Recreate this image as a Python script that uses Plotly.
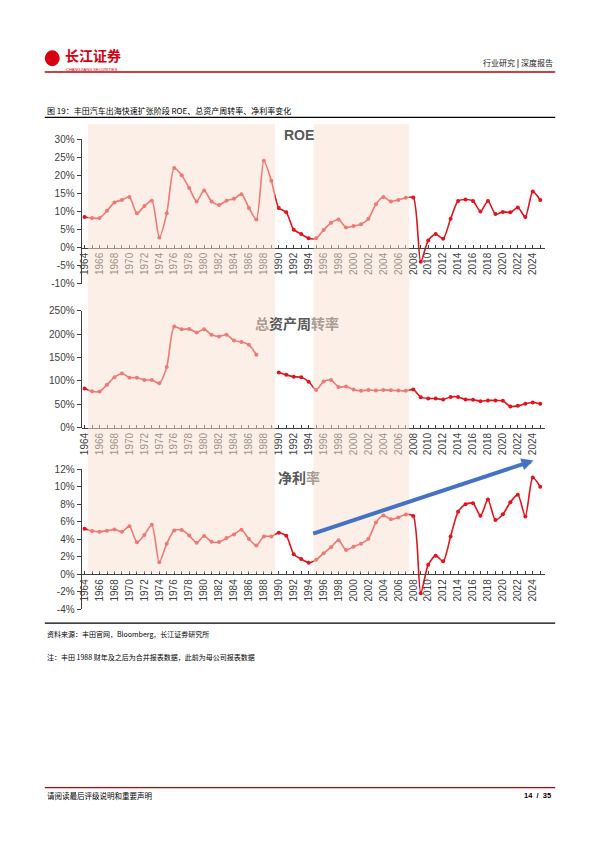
import plotly.graph_objects as go

W, H = 595, 841

# ==========================================
# Dados
# ==========================================
years = list(range(1964, 2026))

roe = [8.5, 8.2, 8.2, 10.2, 12.5, 13.2, 14.0, 9.5, 11.5, 13.0,
       2.8, 9.5, 22.0, 20.0, 16.5, 12.8, 15.8, 12.8, 11.8, 13.0,
       13.5, 14.8, 11.0, 7.8, 24.0, 18.5, 11.0, 9.8, 5.0, 3.8,
       2.6, 2.6, 4.9, 6.9, 7.8, 5.6, 6.0, 6.5, 8.0, 12.0,
       14.0, 12.8, 13.2, 13.8, 13.9, -3.9, 2.0, 3.8, 2.5, 8.0,
       12.9, 13.3, 12.9, 10.0, 12.9, 9.3, 9.9, 9.8, 11.1, 8.5,
       15.5, 13.2]

turnover = [83.8, 78, 77.5, 92, 108, 116, 107, 107, 102, 102,
            95, 130, 216, 210, 211, 203.5, 210, 198.6, 195, 198.6,
            186, 183, 177, 156, None, None, 118, 113, 109, 108,
            98.6, 81, 99, 102, 87, 88, 82, 79, 81, 79.6,
            81, 80, 79.6, 79, 82, 65.5, 62.7, 62.7, 60.6, 66,
            66, 60.6, 60, 57, 58.5, 58.5, 57.7, 45.8, 47, 51.4,
            54, 51.4]

net_margin = [5.2, 4.94, 4.86, 4.97, 5.13, 4.86, 5.5, 3.65, 4.5, 5.66,
              1.37, 3.5, 5.0, 5.05, 4.44, 3.6, 4.37, 3.72, 3.68, 4.14,
              4.56, 5.09, 4.03, 3.3, 4.33, 4.33, 4.75, 4.4, 2.3, 1.75,
              1.33, 1.65, 2.4, 3.1, 3.9, 2.77, 3.15, 3.5, 4.06, 5.92,
              6.72, 6.3, 6.5, 6.84, 6.65, -2.16, 1.1, 2.13, 1.48, 4.33,
              7.14, 8.0, 8.13, 6.68, 8.55, 6.2, 6.87, 8.24, 9.1, 6.6,
              11.05, 10.0]

tick_text = [str(y) if y % 2 == 0 else "" for y in years]

roe_ticks = [-10, -5, 0, 5, 10, 15, 20, 25, 30]
turnover_ticks = [0, 50, 100, 150, 200, 250]
margin_ticks = [-4, -2, 0, 2, 4, 6, 8, 10, 12]

# fases de expansão (sombreado)
phases = [(1964.45, 1989.5), (1994.65, 2007.45)]
# seta de tendência do 净利率
arrow_from = (1994.4, 4.6)
arrow_to = (2024.1, 13.0)

RED = "#E3121B"
AXIS = "#404040"
CJK = "Noto Sans CJK SC"
LAT = "Liberation Sans"


def py(px):
    return 1 - px / H


def px_x(px):
    return px / W


X_RANGE = [1963.6, 2025.67]
X_DOM = [px_x(79), px_x(545)]

# painéis: (valores, ticks y, topo px, base px)
panels = [
    (roe, roe_ticks, 135, 282),
    (turnover, turnover_ticks, 309, 428),
    (net_margin, margin_ticks, 470, 612),
]

fig = go.Figure()
layout = dict(
    width=W, height=H,
    margin=dict(l=0, r=0, t=0, b=0),
    paper_bgcolor="white", plot_bgcolor="rgba(0,0,0,0)",
    showlegend=False,
    font=dict(family=LAT, color=AXIS),
)

for i, (vals, yt, top, bot) in enumerate(panels, start=1):
    sfx = "" if i == 1 else str(i)
    yr = [yt[0], yt[-1]]
    fig.add_trace(go.Scatter(
        x=years, y=vals,
        xaxis="x" + sfx, yaxis="y" + sfx,
        mode="lines+markers",
        line=dict(color=RED, width=1.6, shape="spline", smoothing=0.7),
        marker=dict(color=RED, size=4),
        connectgaps=False,
        hoverinfo="x+y",
    ))
    dom = [py(bot), py(top)]
    zero_pos = dom[0] + (0 - yr[0]) / (yr[1] - yr[0]) * (dom[1] - dom[0])
    layout["xaxis" + sfx] = dict(
        domain=X_DOM, range=X_RANGE, anchor="free", position=zero_pos,
        showline=True, linecolor=AXIS, linewidth=1,
        showgrid=False, zeroline=False,
        tickmode="array", tickvals=years, ticktext=tick_text,
        ticks="inside", ticklen=3, tickcolor=AXIS,
        tickangle=-90, tickfont=dict(size=10, color=AXIS, family=LAT),
    )
    layout["yaxis" + sfx] = dict(
        domain=dom, range=yr, anchor="x" + sfx,
        tickmode="array", tickvals=yt, ticktext=[f"{v}%" for v in yt],
        showline=True, linecolor=AXIS, linewidth=1,
        showgrid=False, zeroline=False,
        ticks="outside", ticklen=4, tickcolor=AXIS,
        tickfont=dict(size=10, color=AXIS, family=LAT),
    )

shapes = []
for x0, x1 in phases:
    shapes.append(dict(
        type="rect", xref="x", yref="paper",
        x0=x0, x1=x1, y0=py(575), y1=py(120),
        fillcolor="rgba(249,223,207,0.5)", line=dict(width=0), layer="above",
    ))

# cabeçalho / rodapé
shapes += [
    dict(type="line", xref="paper", yref="paper", x0=px_x(42), x1=px_x(555),
         y0=py(67), y1=py(67), line=dict(color="#C00000", width=1.5)),
    dict(type="line", xref="paper", yref="paper", x0=px_x(42), x1=px_x(555),
         y0=py(113), y1=py(113), line=dict(color="black", width=1.3)),
    dict(type="line", xref="paper", yref="paper", x0=px_x(42), x1=px_x(555),
         y0=py(626), y1=py(626), line=dict(color="black", width=1.3)),
    dict(type="line", xref="paper", yref="paper", x0=px_x(42), x1=px_x(555),
         y0=py(793), y1=py(793), line=dict(color="#C00000", width=1.2)),
    dict(type="circle", xref="paper", yref="paper", x0=px_x(42), x1=px_x(57),
         y0=py(61), y1=py(45), fillcolor="#D7000F", line=dict(width=0)),
]
layout["shapes"] = shapes

GRAY = "#595959"
LIGHT = "#A99C94"
annotations = [
    dict(text="<b>ROE</b>", x=px_x(297), y=py(131), font=dict(size=14, color=GRAY, family=LAT)),
    dict(text=f"<b><span style='color:{LIGHT}'>总</span>资产周<span style='color:{LIGHT}'>转率</span></b>",
         x=px_x(295), y=py(322), font=dict(size=14, color=GRAY, family=CJK)),
    dict(text=f"<b>净利<span style='color:{LIGHT}'>率</span></b>",
         x=px_x(298), y=py(478), font=dict(size=14, color=GRAY, family=CJK)),
    dict(text="<b>长江证券</b>", x=px_x(60), y=py(50), xanchor="left",
         font=dict(size=14, color="#D7000F", family=CJK)),
    dict(text="CHANGJIANG SECURITIES", x=px_x(61), y=py(64), xanchor="left",
         font=dict(size=4, color="#D7000F", family=LAT)),
    dict(text="行业研究 <b>|</b> 深度报告", x=px_x(555), y=py(58), xanchor="right",
         font=dict(size=8, color="#222222", family=CJK)),
    dict(text="图 19：丰田汽车出海快速扩张阶段 ROE、总资产周转率、净利率变化",
         x=px_x(42), y=py(106), xanchor="left", font=dict(size=8, color="black", family=CJK)),
    dict(text="资料来源：丰田官网，Bloomberg，长江证券研究所",
         x=px_x(42), y=py(637), xanchor="left", font=dict(size=7, color="black", family=CJK)),
    dict(text="注：丰田 1988 财年及之后为合并报表数据，此前为母公司报表数据",
         x=px_x(42), y=py(660), xanchor="left", font=dict(size=7, color="black", family=CJK)),
    dict(text="请阅读最后评级说明和重要声明", x=px_x(42), y=py(801), xanchor="left",
         font=dict(size=7.5, color="black", family=CJK)),
    dict(text="<b>14  /  35</b>", x=px_x(553), y=py(801), xanchor="right",
         font=dict(size=7.5, color="black", family=LAT)),
]
for a in annotations:
    a.update(xref="paper", yref="paper", showarrow=False)
    a.setdefault("xanchor", "center")
    a.setdefault("yanchor", "middle")

annotations.append(dict(
    x=arrow_to[0], y=arrow_to[1], ax=arrow_from[0], ay=arrow_from[1],
    xref="x3", yref="y3", axref="x3", ayref="y3",
    text="", showarrow=True, arrowhead=2, arrowsize=0.6, arrowwidth=4,
    arrowcolor="#4472C4",
))
layout["annotations"] = annotations

fig.update_layout(**layout)
fig.write_html(
    "out.html",
    config={"displayModeBar": False},
    post_script="document.body.style.margin='0';document.body.style.overflow='hidden';",
)
